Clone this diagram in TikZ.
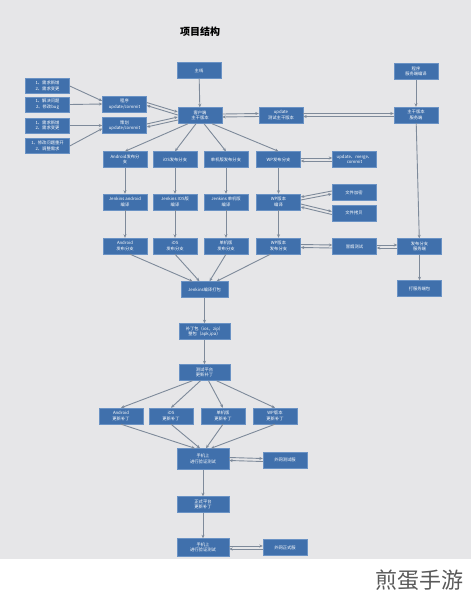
\documentclass[tikz,border=0pt]{standalone}
\usepackage{fontspec}
\setmainfont{Noto Sans CJK SC}
\usepackage{tikz}
\usetikzlibrary{arrows.meta, positioning}
\definecolor{boxblue}{HTML}{4070AC}
\definecolor{boxedge}{HTML}{6A92C4}
\definecolor{bggray}{HTML}{E6E6E8}
\definecolor{linegray}{HTML}{7E8A9A}

\begin{document}
\begin{tikzpicture}[x=1pt, y=-1pt, >={Stealth[length=3.5pt,width=3pt]},
    box/.style={draw=boxedge, fill=boxblue, text=white, line width=0.4pt,
        minimum width=44, minimum height=16, inner sep=0.5pt, align=center,
        font=\fontsize{4.3}{5.6}\selectfont},
    lnk/.style={->, draw=linegray, line width=0.9pt}]
        \fill[bggray] (0,0) rectangle (471,559);
        \useasboundingbox (0,0) rectangle (471,600);
        \node (title) at (200,32) {\fontsize{10}{12}\selectfont\bfseries 项目结构};

        % top part
        \node[box] (zhuxian) at (199,70.5) {主线};
        \node[box] (kehu) at (200,115.5) {客户端\\主干版本};
        \node[box] (updtest) at (281,115) {update\\测试主干版本};
        \node[box] (srvprog) at (416,71.5) {程序\\服务端编译};
        \node[box] (srvtrunk) at (416,115) {主干版本\\服务端};
        \node[box, minimum height=15] (req1) at (47.5,86) {1、需求新增\\2、需求变更};
        \node[box, minimum height=15] (fix1) at (47.5,104.5) {1、解决问题\\2、修改bug};
        \node[box, minimum height=15] (req2) at (47.5,125.5) {1、需求新增\\2、需求变更};
        \node[box, minimum height=15] (fix2) at (47.5,146) {1、修改问题重开\\2、调整需求};
        \node[box] (prog) at (124.5,104) {程序\\update/commit};
        \node[box] (plan) at (124.5,125.5) {策划\\update/commit};

        % branches
        \node[box] (brA) at (125,159.5) {Android发布分\\支};
        \node[box] (brI) at (175,159.5) {iOS发布分支};
        \node[box] (brD) at (226,159.5) {单机版发布分支};
        \node[box] (brW) at (278.5,159.5) {WP发布分支};
        \node[box] (umc) at (354.5,159.5) {update、merge、\\commit};
        \node[box] (jA) at (125,202) {Jenkins android\\编译};
        \node[box] (jI) at (175,202) {Jenkins IOS版\\编译};
        \node[box] (jD) at (226,202) {Jenkins 单机版\\编译};
        \node[box] (jW) at (278.5,202) {WP版本\\编译};
        \node[box] (enc) at (354,192.5) {文件加密};
        \node[box] (cpy) at (354,213) {文件拷贝};
        \node[box] (rA) at (125,246) {Android\\发布分支};
        \node[box] (rI) at (175,246) {iOS\\发布分支};
        \node[box] (rD) at (226,246) {单机版\\发布分支};
        \node[box] (rW) at (278.5,246) {WP版本\\发布分支};
        \node[box] (smoke) at (354.5,246.5) {冒烟测试};
        \node[box] (srvrel) at (419.5,246.5) {发布分支\\服务端};
        \node[box] (srvpkg) at (419.5,288.5) {打服务端包};

        % packing and patches
        \node[box, minimum width=47] (jpack) at (204.5,289.5) {Jenkins编译打包};
        \node[box, minimum width=51] (pkgs) at (204.5,331.5) {补丁包（ios，zip）\\整包（apk,ipa）};
        \node[box, minimum width=51] (testplat) at (204.5,372.5) {测试平台\\更新补丁};
        \node[box] (pA) at (121,416) {Android\\更新补丁};
        \node[box] (pI) at (171,416) {iOS\\更新补丁};
        \node[box] (pD) at (223,416) {单机版\\更新补丁};
        \node[box] (pW) at (275,416) {WP版本\\更新补丁};
        \node[box, minimum width=52, minimum height=21] (phone1) at (203,459) {手机上\\进行验证测试};
        \node[box] (extest) at (285,460) {外网测试服};
        \node[box, minimum width=52] (prodplat) at (203,504.5) {正式平台\\更新补丁};
        \node[box, minimum width=52, minimum height=18] (phone2) at (203,547.5) {手机上\\进行验证测试};
        \node[box] (exprod) at (285,547.5) {外网正式服};

        \node[text=black!65, font=\fontsize{22}{24}\selectfont] (site) at (419,580) {煎蛋手游};

        % connectors
        \draw[lnk] (zhuxian) -- (kehu);
        \draw[lnk] (req1.east) -- ([yshift=3]prog.west);
        \draw[lnk] (fix1.east) -- (prog.west);
        \draw[lnk] (req2.east) -- (plan.west);
        \draw[lnk] (fix2.east) -- ([yshift=-3]plan.west);
        \draw[lnk] ([yshift=1.5]prog.east) -- ([yshift=3.5]kehu.west);
        \draw[lnk] ([yshift=0.5]kehu.west) -- ([yshift=-1.5]prog.east);
        \draw[lnk] ([yshift=1.5]plan.east) -- ([yshift=-1.5]kehu.west);
        \draw[lnk] ([yshift=-4.5]kehu.west) -- ([yshift=-1.5]plan.east);
        \draw[lnk] ([yshift=1.5]kehu.east) -- ([yshift=1.5]updtest.west);
        \draw[lnk] ([yshift=-1.5]updtest.west) -- ([yshift=-1.5]kehu.east);
        \draw[lnk] ([yshift=1.5]updtest.east) -- ([yshift=1.5]srvtrunk.west);
        \draw[lnk] ([yshift=-1.5]srvtrunk.west) -- ([yshift=-1.5]updtest.east);
        \draw[lnk] (srvprog) -- (srvtrunk);
        \draw[lnk] (srvtrunk) -- (srvrel);

        \draw[lnk] ([xshift=-12]kehu.south) -- (brA.north);
        \draw[lnk] ([xshift=-4]kehu.south) -- (brI.north);
        \draw[lnk] ([xshift=4]kehu.south) -- (brD.north);
        \draw[lnk] ([xshift=12]kehu.south) -- (brW.north);
        \foreach \b/\j/\r in {brA/jA/rA, brI/jI/rI, brD/jD/rD, brW/jW/rW} {
            \draw[lnk] (\b) -- (\j);
            \draw[lnk] (\j) -- (\r);
        }
        \draw[lnk] ([yshift=1.5]brW.east) -- ([yshift=1.5]umc.west);
        \draw[lnk] ([yshift=-1.5]umc.west) -- ([yshift=-1.5]brW.east);
        \draw[lnk] ([yshift=2]jW.east) -- ([yshift=-1.5]enc.west);
        \draw[lnk] ([yshift=1.5]enc.west) -- ([yshift=5]jW.east);
        \draw[lnk] ([yshift=-2]jW.east) -- ([yshift=1.5]cpy.west);
        \draw[lnk] ([yshift=-1.5]cpy.west) -- ([yshift=-5]jW.east);
        \draw[lnk] ([yshift=1.5]rW.east) -- ([yshift=1.5]smoke.west);
        \draw[lnk] ([yshift=-1.5]smoke.west) -- ([yshift=-1.5]rW.east);
        \draw[lnk] ([yshift=1.5]smoke.east) -- ([yshift=1.5]srvrel.west);
        \draw[lnk] ([yshift=-1.5]srvrel.west) -- ([yshift=-1.5]smoke.east);
        \draw[lnk] (srvrel) -- (srvpkg);

        \draw[lnk] ([xshift=5]rA.south) -- ([xshift=-12]jpack.north);
        \draw[lnk] (rI.south) -- ([xshift=-5]jpack.north);
        \draw[lnk] (rD.south) -- ([xshift=5]jpack.north);
        \draw[lnk] ([xshift=-8]rW.south) -- ([xshift=12]jpack.north);
        \draw[lnk] (jpack) -- (pkgs);
        \draw[lnk] (pkgs) -- (testplat);

        \draw[lnk] ([xshift=-12]testplat.south) -- (pA.north);
        \draw[lnk] ([xshift=-4]testplat.south) -- (pI.north);
        \draw[lnk] ([xshift=4]testplat.south) -- (pD.north);
        \draw[lnk] ([xshift=12]testplat.south) -- (pW.north);
        \draw[lnk] (pA.south) -- ([xshift=-8]phone1.north);
        \draw[lnk] (pI.south) -- ([xshift=-3]phone1.north);
        \draw[lnk] (pD.south) -- ([xshift=3]phone1.north);
        \draw[lnk] (pW.south) -- ([xshift=8]phone1.north);
        \draw[lnk] ([yshift=1.5]phone1.east) -- ([yshift=1.5]extest.west);
        \draw[lnk] ([yshift=-1.5]extest.west) -- ([yshift=-1.5]phone1.east);
        \draw[lnk] (phone1) -- (prodplat);
        \draw[lnk] (prodplat) -- (phone2);
        \draw[lnk] ([yshift=1.5]phone2.east) -- ([yshift=1.5]exprod.west);
        \draw[lnk] ([yshift=-1.5]exprod.west) -- ([yshift=-1.5]phone2.east);
    \end{tikzpicture}
\end{document}
